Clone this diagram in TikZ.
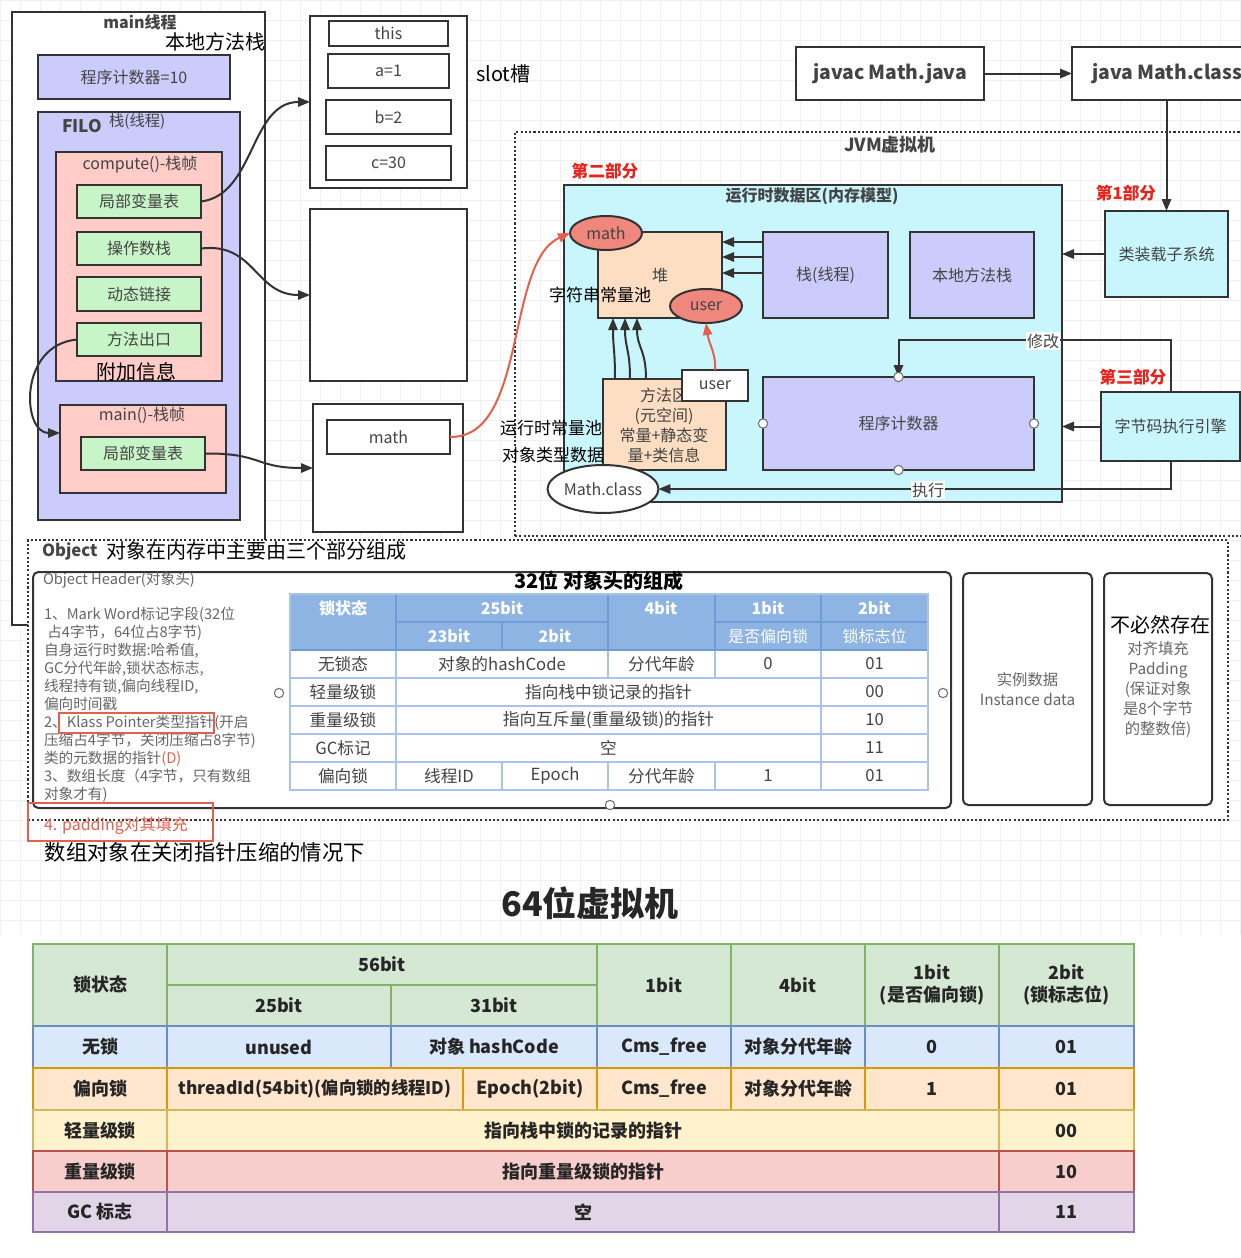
\documentclass[tikz,border=0pt]{standalone}
\usepackage{fontspec}
\setmainfont{Noto Sans CJK SC}
\usetikzlibrary{arrows.meta,calc,shapes.geometric}
\definecolor{dk}{HTML}{333333}
\definecolor{lav}{HTML}{CCCCFC}
\definecolor{pinkf}{HTML}{FFCCC8}
\definecolor{grn}{HTML}{C8F5C8}
\definecolor{cyn}{HTML}{C8F6FC}
\definecolor{peach}{HTML}{FDDEC3}
\definecolor{salm}{HTML}{F0877D}
\definecolor{redt}{HTML}{E8231E}
\definecolor{reda}{HTML}{E4604E}
\definecolor{tg}{HTML}{444444}
\definecolor{tg2}{HTML}{666666}
\definecolor{hb}{HTML}{8DB4E2}
\definecolor{hbd}{HTML}{6F9BD6}
\definecolor{hbl}{HTML}{A9C4E6}
\definecolor{gA}{HTML}{D5E8D4}\definecolor{gB}{HTML}{82B366}
\definecolor{bA}{HTML}{DAE8FC}\definecolor{bB}{HTML}{6C8EBF}
\definecolor{oA}{HTML}{FFE6CC}\definecolor{oB}{HTML}{D79B00}
\definecolor{yA}{HTML}{FFF2CC}\definecolor{yB}{HTML}{D6B656}
\definecolor{rA}{HTML}{F8CECC}\definecolor{rB}{HTML}{B85450}
\definecolor{pA}{HTML}{E1D5E7}\definecolor{pB}{HTML}{9673A6}
\newcommand\fz[2]{\fontsize{#1}{#2}\selectfont}
\newcommand\rbox[7]{\node[minimum width={(#4-#2)*0.75pt},minimum height={(#5-#3)*0.75pt},inner sep=0pt,#6] (#1) at ({(#2+#4)/2},{(#3+#5)/2}) {#7};}
\begin{document}
\begin{tikzpicture}[x=0.75pt,y=-0.75pt,
  every node/.style={inner sep=0pt,outer sep=0pt},
  bx/.style={draw=dk,line width=1.5pt},
  tx/.style={text=tg,font=\fz{12}{14}},
  arr/.style={draw=dk,line width=1.5pt,-{Triangle[length=9pt,width=7pt]}},
  rarr/.style={draw=reda,line width=1.5pt,-{Triangle[length=9pt,width=7pt]}},
  redlbl/.style={text=redt,font=\bfseries\fz{12.5}{15}},
  dots/.style={draw=dk,line width=1.6pt,dash pattern=on 1.6pt off 1.6pt},
  cpt/.style={circle,draw=dk!70,fill=white,line width=0.8pt,minimum size=7pt},
  c32h/.style={draw=hbd,line width=0.9pt,fill=hb,text=white,font=\bfseries\fz{12}{14}},
  c32/.style={draw=hbl,line width=0.9pt,fill=white,text=tg,font=\fz{12.5}{14}},
  c64/.style={line width=1.2pt,font=\bfseries\fz{13.5}{17},text=black!85,align=center},
  hg/.style={c64,fill=gA,draw=gB},
  rb/.style={c64,fill=bA,draw=bB},
  ro/.style={c64,fill=oA,draw=oB},
  ry/.style={c64,fill=yA,draw=yB},
  rr/.style={c64,fill=rA,draw=rB},
  rp/.style={c64,fill=pA,draw=pB}]
\useasboundingbox (0,0) rectangle (1241,1258);
\clip (0,0) rectangle (1241,1258);
\fill[white] (0,0) rectangle (1241,1258);
\draw[black!6,line width=0.5pt,step=15pt] (0,0) grid (1241,935);

% ---------- main thread ----------
\rbox{mainth}{12}{12}{265}{625}{bx,fill=white}{}
\node[font=\bfseries\fz{12}{14},text=tg] (mainlbl) at (140,22) {main线程};
\node[font=\fz{15}{18}] (bdff) at (215,42) {本地方法栈};
\rbox{pc10}{38}{55}{230}{99}{bx,fill=lav,tx}{程序计数器=10}
\rbox{filo}{38}{112}{240}{520}{bx,fill=lav}{}
\node[font=\bfseries\fz{13}{15},text=tg,anchor=west] (filolbl) at (62,126) {FILO};
\node[font=\fz{11.5}{13},text=tg,anchor=west] (zhanlbl) at (109,122) {栈(线程)};
\rbox{compute}{56}{152}{222}{381}{bx,fill=pinkf}{}
\node[tx] (complbl) at (140,165) {compute()-栈帧};
\rbox{lv1}{77}{185}{201}{218}{bx,fill=grn,tx}{局部变量表}
\rbox{ops}{77}{232}{201}{265}{bx,fill=grn,tx}{操作数栈}
\rbox{dyn}{77}{277}{201}{311}{bx,fill=grn,tx}{动态链接}
\rbox{exit}{77}{323}{201}{356}{bx,fill=grn,tx}{方法出口}
\node[font=\fz{15}{18}] (fujia) at (136,372) {附加信息};
\rbox{mainf}{60}{405}{226}{493}{bx,fill=pinkf}{}
\node[tx] (mainflbl) at (142,415) {main()-栈帧};
\rbox{lv2}{81}{437}{205}{470}{bx,fill=grn,tx}{局部变量表}
\coordinate (mfin) at ($(mainf.west)+(0,-16)$);

% ---------- middle column ----------
\rbox{slots}{310}{16}{467}{188}{bx,fill=white}{}
\rbox{sthis}{329}{21}{448}{46}{bx,fill=white,tx}{this}
\rbox{sa}{328}{54}{449}{88}{bx,fill=white,tx}{a=1}
\rbox{sb}{326}{100}{451}{134}{bx,fill=white,tx}{b=2}
\rbox{sc}{326}{146}{451}{180}{bx,fill=white,tx}{c=30}
\node[font=\fz{15}{18},anchor=west] (slotlbl) at (476,74) {slot槽};
\rbox{opst}{310}{209}{467}{381}{bx,fill=white}{}
\rbox{lvbox}{313}{404}{463}{532}{bx,fill=white}{}
\rbox{mathv}{327}{420}{450}{454}{bx,fill=white,tx}{math}

\draw[arr] (lv1.east) .. controls (255,195) and (250,102) .. (slots.west);
\draw[arr] (ops.east) .. controls (255,242) and (255,295) .. (opst.west);
\draw[arr] (exit.west) .. controls (18,345) and (22,433) .. (mfin);
\draw[arr] (lv2.east) .. controls (262,453) and (255,468) .. (lvbox.west);

% ---------- JVM ----------
\draw[dots] (515,536) -- (515,132) -- (1250,132);
\draw[dots] (515,536) -- (1250,536);
\node[font=\bfseries\fz{13.5}{16},text=tg] (jvm) at (890,145) {JVM虚拟机};
\rbox{javac}{796}{47}{984}{100}{bx,fill=white,font=\bfseries\fz{14.5}{17},text=tg}{javac Math.java}
\rbox{javacls}{1072}{47}{1262}{100}{bx,fill=white,font=\bfseries\fz{14.5}{17},text=tg}{java Math.class}
\draw[arr] (javac.east) -- (javacls.west);
\rbox{loader}{1105}{211}{1228}{297}{bx,fill=cyn,tx}{类装载子系统}
\draw[arr] (loader.north |- javacls.south) -- (loader.north);
\node[redlbl] (p1) at (1126,193) {第1部分};
\rbox{rda}{564}{185}{1062}{502}{bx,fill=cyn}{}
\node[font=\bfseries\fz{12}{14},text=tg] (rdalbl) at (812,196) {运行时数据区(内存模型)};
\node[redlbl] (p2) at (605,171) {第二部分};
\draw[arr] (loader.west) -- (loader.west -| rda.east);
\rbox{heap}{598}{232}{722}{318}{bx,fill=peach,tx}{堆}
\node[font=\fz{12.75}{15}] (strpool) at (600,295) {字符串常量池};
\node[ellipse,draw=dk,line width=1.5pt,fill=salm,minimum width=54pt,minimum height=25.5pt,tx] (mathE) at (606,233) {math};
\node[ellipse,draw=dk,line width=1.5pt,fill=salm,minimum width=54pt,minimum height=25.5pt,tx] (userE) at (706,306) {user};
\rbox{stk}{763}{232}{888}{318}{bx,fill=lav,tx}{栈(线程)}
\rbox{nat}{910}{232}{1034}{318}{bx,fill=lav,tx}{本地方法栈}
\draw[arr] ($(stk.west)+(0,-33)$) -- ($(heap.east)+(0,-33)$);
\draw[arr] ($(stk.west)+(0,-18)$) -- ($(heap.east)+(0,-18)$);
\draw[arr] ($(stk.west)+(0,-2)$) -- ($(heap.east)+(0,-2)$);
\rbox{ma}{603}{379}{726}{470}{bx,fill=peach}{}
\node[align=center,text=tg,font=\fz{12}{15}] (matxt) at (664,425) {方法区\\(元空间)\\常量+静态变\\量+类信息};
\rbox{userR}{682}{370}{748}{401}{bx,fill=white,tx}{user}
\draw[arr] ($(ma.north west)+(12,0)$) .. controls +(0,-30) and +(0,30) .. ($(heap.south west)+(15,0)$);
\draw[arr] ($(ma.north west)+(27,0)$) .. controls +(0,-30) and +(0,30) .. ($(heap.south west)+(27,0)$);
\draw[arr] ($(ma.north west)+(43,0)$) .. controls +(0,-30) and +(0,30) .. ($(heap.south west)+(39,0)$);
\draw[rarr] (userR.north) .. controls (716,352) and (709,345) .. (userE.south);
\draw[rarr] (mathv.east) .. controls (528,438) and (505,262) .. (mathE.west);
\node[font=\fz{12.75}{15}] (rtpool) at (551,428) {运行时常量池};
\node[font=\fz{12.75}{15}] (objtype) at (553,455) {对象类型数据};
\node[ellipse,draw=dk,line width=1.5pt,fill=white,minimum width=82pt,minimum height=36pt,tx] (mathcls) at (603,489) {Math.class};
\rbox{pc}{763}{377}{1034}{470}{bx,fill=lav,tx}{程序计数器}
\rbox{eng}{1101}{392}{1240}{461}{bx,fill=cyn,tx}{字节码执行引擎}
\node[redlbl] (p3) at (1133,377) {第三部分};
\draw[arr] (eng.west) -- (eng.west -| rda.east);
\coordinate (modc) at (pc.north |- 0,340);
\draw[arr] (eng.north) |- (modc) -- (pc.north);
\node[fill=white,text=tg,font=\fz{12}{14},inner sep=1pt] (modl) at (1043,341) {修改};
\draw[arr] (eng.south) |- (mathcls.east);
\node[fill=white,text=tg,font=\fz{12}{14},inner sep=1pt] (exel) at (928,490) {执行};
\node[cpt] (pcn) at (pc.north) {};
\node[cpt] (pcs) at (pc.south) {};
\node[cpt] (pcw) at (pc.west) {};
\node[cpt] (pce) at (pc.east) {};

% ---------- Object section ----------
\rbox{objsec}{28}{540}{1228}{820}{dots,fill=white}{}
\node[font=\bfseries\fz{12.5}{15},text=tg,anchor=west] (objlbl) at (42,551) {Object};
\node[font=\fz{15}{18},anchor=west] (objdesc) at (106,551) {对象在内存中主要由三个部分组成};
\rbox{objhdr}{33}{572}{951}{808}{draw=dk,line width=1.5pt,rounded corners=4pt,fill=white}{}
\node[anchor=west,text=tg2,font=\fz{11}{13}] (ohtitle) at (43,580) {Object Header(对象头)};
\node[anchor=north west,align=left,text=tg2,font=\fz{11}{13.5}] (ohtext) at (44,607) {1、Mark Word标记字段(32位\\
\ 占4字节，64位占8字节)\\
自身运行时数据:哈希值,\\
GC分代年龄,锁状态标志,\\
线程持有锁,偏向线程ID,\\
偏向时间戳\\
2、Klass Pointer类型指针(开启\\
压缩占4字节，关闭压缩占8字节)\\
类的元数据的指针\textcolor{reda}{(D)}\\
3、数组长度（4字节，只有数组\\
对象才有)};
\draw[reda,line width=1pt] (59,713) rectangle (214,733);
\rbox{padbox}{28}{803}{213}{841}{draw=reda,line width=1pt}{}
\node[text=reda,anchor=west,font=\fz{12}{14}] (padtxt) at (44,826) {4. padding对其填充};
\node[anchor=west,font=\fz{16}{18}] (arrnote) at (45,852) {数组对象在关闭指针压缩的情况下};
\node[font=\bfseries\fz{15}{17}] (t32) at (599,581) {32位 对象头的组成};

% 32-bit table
\rbox{h1}{290}{594}{396}{650}{c32h}{}
\node[text=white,font=\bfseries\fz{12}{14}] (h1t) at (343,608) {锁状态};
\rbox{h2}{396}{594}{608}{622}{c32h}{25bit}
\rbox{h3}{608}{594}{715}{650}{c32h}{}
\node[text=white,font=\bfseries\fz{12}{14}] (h3t) at (661,608) {4bit};
\rbox{h4}{715}{594}{821}{622}{c32h}{1bit}
\rbox{h5}{821}{594}{928}{622}{c32h}{2bit}
\rbox{h6}{396}{622}{502}{650}{c32h}{23bit}
\rbox{h7}{502}{622}{608}{650}{c32h}{2bit}
\rbox{h8}{715}{622}{821}{650}{c32h,font=\fz{12}{14}}{是否偏向锁}
\rbox{h9}{821}{622}{928}{650}{c32h,font=\fz{12}{14}}{锁标志位}
\rbox{ra1}{290}{650}{396}{678}{c32}{无锁态}
\rbox{ra2}{396}{650}{608}{678}{c32}{对象的hashCode}
\rbox{ra3}{608}{650}{715}{678}{c32}{分代年龄}
\rbox{ra4}{715}{650}{821}{678}{c32}{0}
\rbox{ra5}{821}{650}{928}{678}{c32}{01}
\rbox{rb1}{290}{678}{396}{706}{c32}{轻量级锁}
\rbox{rb2}{396}{678}{821}{706}{c32}{指向栈中锁记录的指针}
\rbox{rb3}{821}{678}{928}{706}{c32}{00}
\rbox{rc1}{290}{706}{396}{734}{c32}{重量级锁}
\rbox{rc2}{396}{706}{821}{734}{c32}{指向互斥量(重量级锁)的指针}
\rbox{rc3}{821}{706}{928}{734}{c32}{10}
\rbox{rd1}{290}{734}{396}{762}{c32}{GC标记}
\rbox{rd2}{396}{734}{821}{762}{c32}{空}
\rbox{rd3}{821}{734}{928}{762}{c32}{11}
\rbox{re1}{290}{762}{396}{790}{c32}{偏向锁}
\rbox{re2}{396}{762}{502}{790}{c32}{线程ID}
\rbox{re3}{502}{762}{608}{790}{c32}{Epoch}
\rbox{re4}{608}{762}{715}{790}{c32}{分代年龄}
\rbox{re5}{715}{762}{821}{790}{c32}{1}
\rbox{re6}{821}{762}{928}{790}{c32}{01}
\draw[hbd,line width=2pt] (h1.south west) -- (h9.south east);
\draw[hbl,line width=1.5pt] (h1.north west) rectangle (re6.south east);
\node[cpt] (cL) at (279,693) {};
\node[cpt] (cR) at (943,693) {};
\node[cpt] (cB) at (610,805) {};

\rbox{inst}{963}{573}{1092}{805}{draw=dk,line width=1.5pt,rounded corners=4pt,fill=white,align=center,text=tg2,font=\fz{11.5}{15}}{实例数据\\Instance data}
\rbox{padd}{1104}{573}{1212}{805}{draw=dk,line width=1.5pt,rounded corners=4pt,fill=white}{}
\node[font=\fz{15}{18}] (bbrz) at (1160,625) {不必然存在};
\node[align=center,text=tg2,font=\fz{11.5}{15}] (padtext) at (1158,690) {对齐填充\\Padding\\(保证对象\\是8个字节\\的整数倍)};

% ---------- 64-bit table ----------
\node[font=\bfseries\fz{25.5}{28},text=black!85] (t64) at (590,903) {64位虚拟机};
\rbox{ga}{33}{944}{167}{1026}{hg}{锁状态}
\rbox{gb}{167}{944}{597}{985}{hg}{56bit}
\rbox{gc}{167}{985}{391}{1026}{hg}{25bit}
\rbox{gd}{391}{985}{597}{1026}{hg}{31bit}
\rbox{ge}{597}{944}{731}{1026}{hg}{1bit}
\rbox{gf}{731}{944}{865}{1026}{hg}{4bit}
\rbox{gg}{865}{944}{999}{1026}{hg}{1bit\\(是否偏向锁)}
\rbox{gh}{999}{944}{1134}{1026}{hg}{2bit\\(锁标志位)}
\rbox{wa}{33}{1026}{167}{1068}{rb}{无锁}
\rbox{wb}{167}{1026}{391}{1068}{rb}{unused}
\rbox{wc}{391}{1026}{597}{1068}{rb}{对象 hashCode}
\rbox{wd}{597}{1026}{731}{1068}{rb}{Cms\_free}
\rbox{we}{731}{1026}{865}{1068}{rb}{对象分代年龄}
\rbox{wf}{865}{1026}{999}{1068}{rb}{0}
\rbox{wg}{999}{1026}{1134}{1068}{rb}{01}
\rbox{pa}{33}{1068}{167}{1110}{ro}{偏向锁}
\rbox{pb}{167}{1068}{463}{1110}{ro,font=\bfseries\fz{13}{16}}{threadId(54bit)(偏向锁的线程ID)}
\rbox{pc2}{463}{1068}{597}{1110}{ro}{Epoch(2bit)}
\rbox{pd}{597}{1068}{731}{1110}{ro}{Cms\_free}
\rbox{pe}{731}{1068}{865}{1110}{ro}{对象分代年龄}
\rbox{pf}{865}{1068}{999}{1110}{ro}{1}
\rbox{pg}{999}{1068}{1134}{1110}{ro}{01}
\rbox{la}{33}{1110}{167}{1151}{ry}{轻量级锁}
\rbox{lb}{167}{1110}{999}{1151}{ry}{指向栈中锁的记录的指针}
\rbox{lc}{999}{1110}{1134}{1151}{ry}{00}
\rbox{ha}{33}{1151}{167}{1192}{rr}{重量级锁}
\rbox{hb2}{167}{1151}{999}{1192}{rr}{指向重量级锁的指针}
\rbox{hc}{999}{1151}{1134}{1192}{rr}{10}
\rbox{xa}{33}{1192}{167}{1232}{rp}{GC 标志}
\rbox{xb}{167}{1192}{999}{1232}{rp}{空}
\rbox{xc}{999}{1192}{1134}{1232}{rp}{11}
\end{tikzpicture}
\end{document}
